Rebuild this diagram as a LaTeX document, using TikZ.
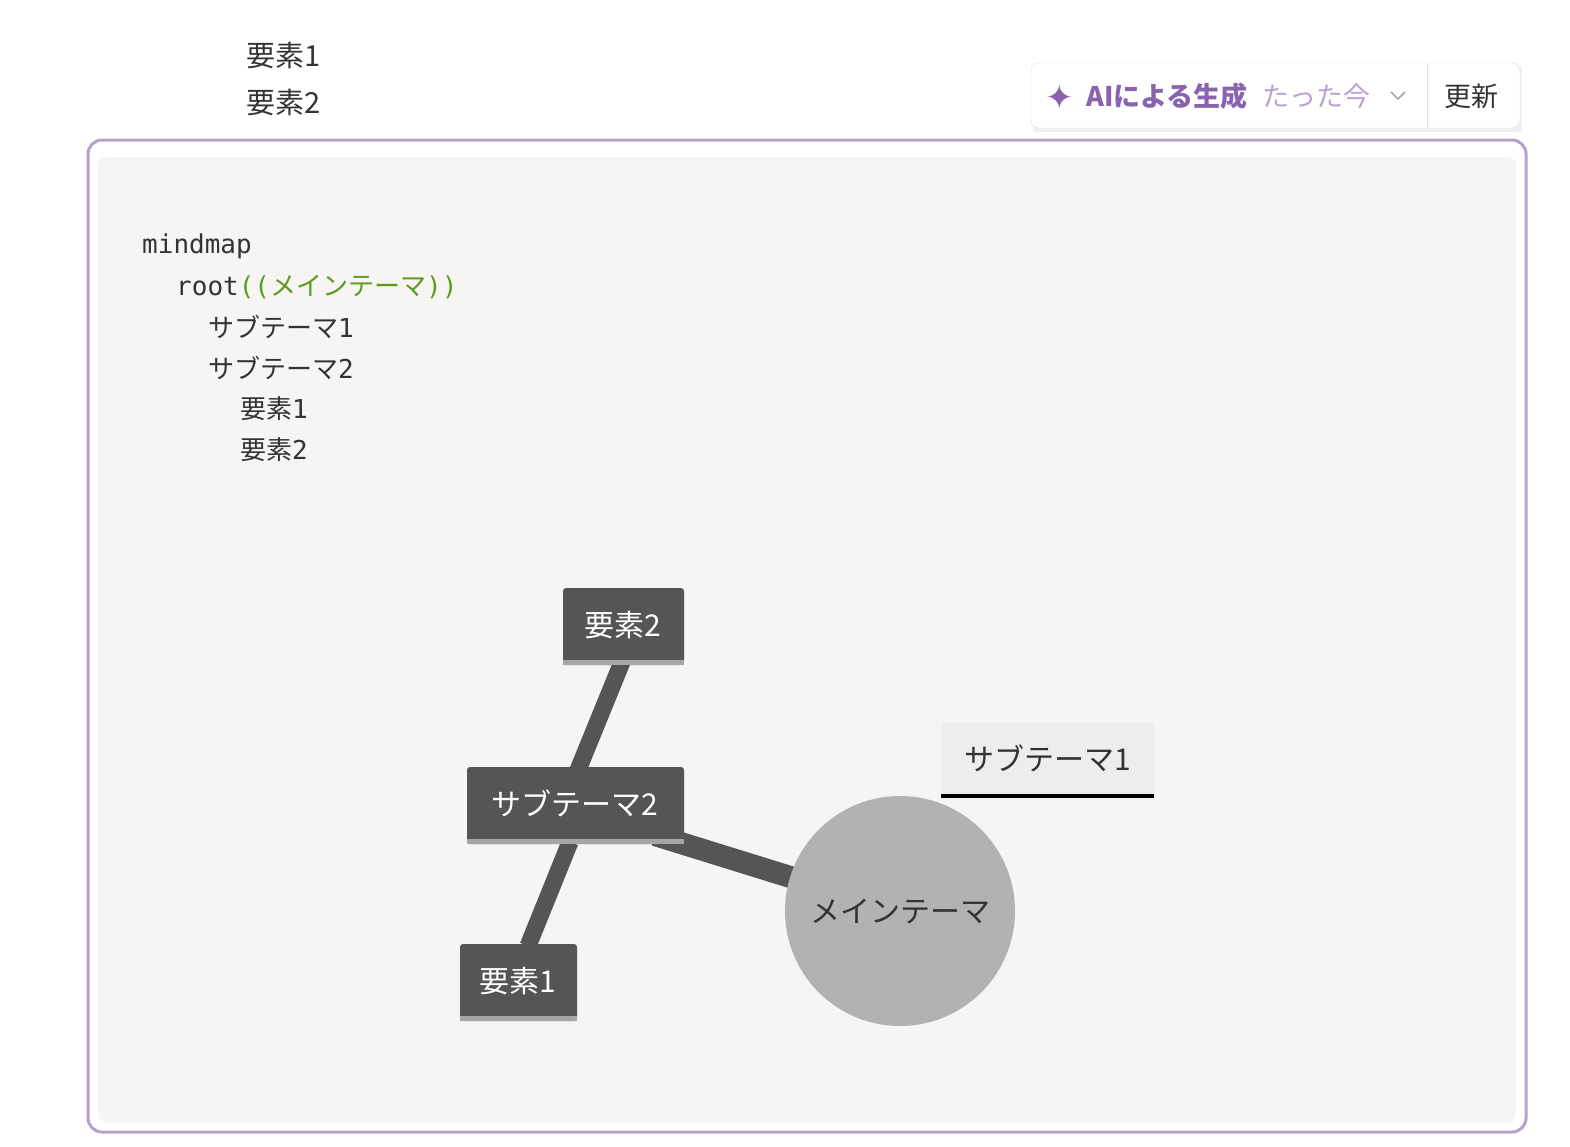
\documentclass[tikz,border=0pt]{standalone}
\usepackage{fontspec}
\setmainfont{Noto Sans CJK JP}
\newfontfamily\cjk{Noto Sans CJK JP}
\setmonofont{DejaVu Sans Mono}
\definecolor{frame}{HTML}{B8A0CC}
\definecolor{bgc}{HTML}{F6F5F3}
\definecolor{dark}{HTML}{555555}
\definecolor{txt}{HTML}{333333}
\definecolor{grn}{HTML}{5F9A1E}
\definecolor{purp}{HTML}{8A63B0}
\definecolor{lpurp}{HTML}{B9A2D3}
\tikzset{x=1pt,y=-1pt,
  darkbox/.style={fill=dark,text=white,font=\fontsize{30}{30}\selectfont,rounded corners=3pt},
  edge/.style={draw=dark,line width=#1},
  code/.style={anchor=west,font=\ttfamily\fontsize{26}{26}\selectfont,text=txt,inner sep=0pt},
  top/.style={anchor=west,font=\fontsize{29}{29}\selectfont,text=txt,inner sep=0pt}}
\begin{document}
\begin{tikzpicture}
\useasboundingbox (0,0) rectangle (1570,1146);
\fill[white] (0,0) rectangle (1570,1146);
\node[top] (t1) at (246,55) {要素1};
\node[top] (t2) at (246,102) {要素2};
% button
\fill[black!6] (1033,67) rectangle (1522,132);
\draw[black!12,fill=white,rounded corners=8pt] (1031,63) rectangle (1520,128);
\draw[black!12] (1427,63) -- (1427,128);
\node[anchor=west,inner sep=0pt,text=purp,font=\fontsize{34}{34}\selectfont] (star) at (1045,97) {\fontspec{DejaVu Sans}✦};
\node[anchor=west,inner sep=0pt,font=\fontsize{27}{27}\selectfont\bfseries,text=purp] (ai) at (1086,96) {AIによる生成};
\node[anchor=west,inner sep=0pt,font=\fontsize{27}{27}\selectfont,text=lpurp] (now) at (1262,96) {たった今};
\draw[black!35,line width=1.5pt] (1391,92) -- (1398,99) -- (1405,92);
\node[anchor=west,inner sep=0pt,font=\fontsize{27}{27}\selectfont,text=txt] (upd) at (1444,96) {更新};
% frame
\draw[frame,line width=3pt,rounded corners=14pt] (88,140) rectangle (1526,1132);
\fill[bgc,rounded corners=8pt] (98,157) rectangle (1516,1122);
% code
\node[code] (c1) at (142,246) {mindmap};
\node[code] (c2) at (176,287) {root\textcolor{grn}{((\cjk メインテーマ\ttfamily))}};
\node[code] (c3) at (208,327) {\cjk サブテーマ\ttfamily 1};
\node[code] (c4) at (208,368) {\cjk サブテーマ\ttfamily 2};
\node[code] (c5) at (240,409) {\cjk 要素\ttfamily 1};
\node[code] (c6) at (240,450) {\cjk 要素\ttfamily 2};
% connectors
\coordinate (e2b) at (622,662);
\coordinate (s2t) at (578,770);
\coordinate (s2b) at (570,842);
\coordinate (e1t) at (528,946);
\coordinate (s2r) at (655,835);
\coordinate (mc) at (800,880);
\draw[edge=17pt] (e2b) -- (s2t);
\draw[edge=17pt] (s2b) -- (e1t);
\draw[edge=22pt] (s2r) -- (mc);
\fill[dark,rounded corners=3pt] (563,588) rectangle (684,665);
\fill[black!35] (563,660) rectangle (684,665);
\node[text=white,font=\fontsize{30}{30}\selectfont] (e2) at (623,625) {要素2};
\fill[dark,rounded corners=3pt] (467,767) rectangle (684,844);
\fill[black!35] (467,839) rectangle (684,844);
\node[text=white,font=\fontsize{30}{30}\selectfont] (s2) at (575,803) {サブテーマ2};
\fill[dark,rounded corners=3pt] (460,944) rectangle (577,1021);
\fill[black!35] (460,1016) rectangle (577,1021);
\node[text=white,font=\fontsize{30}{30}\selectfont] (e1) at (518,981) {要素1};
\node[circle,fill=black!30,minimum size=230pt,inner sep=0pt,text=txt,font=\fontsize{30}{30}\selectfont] (main) at (900,911) {メインテーマ};
\fill[black!7] (941,723) rectangle (1154,799);
\draw[black,line width=4pt] (941,796) -- (1154,796);
\node[text=txt,font=\fontsize{30}{30}\selectfont] (s1) at (1048,758) {サブテーマ1};
\end{tikzpicture}
\end{document}
